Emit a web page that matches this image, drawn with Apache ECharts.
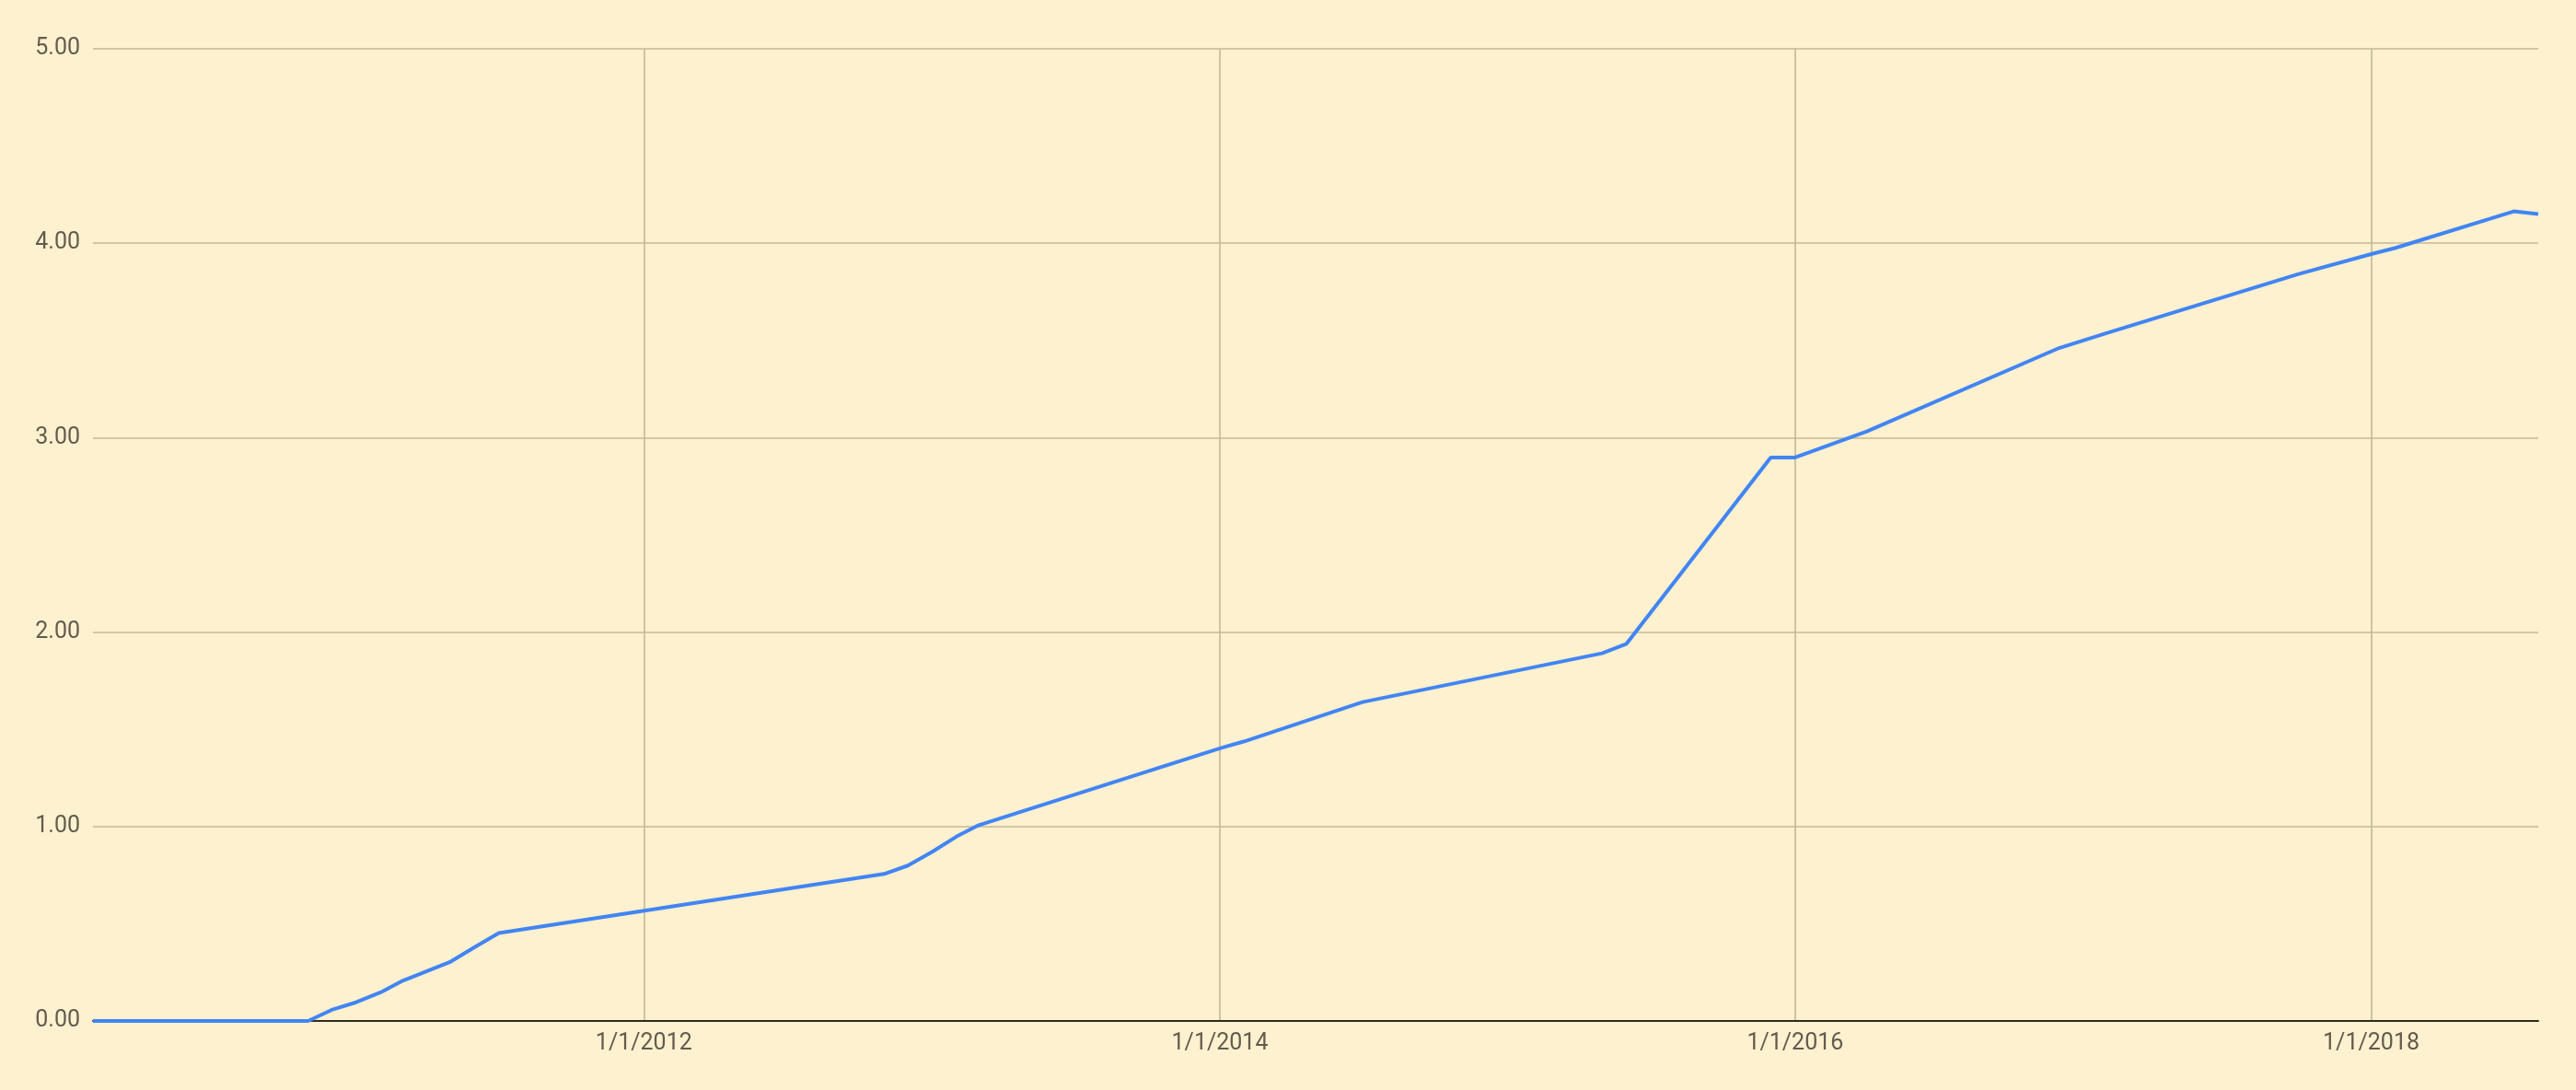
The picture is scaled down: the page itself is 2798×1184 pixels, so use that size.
<!DOCTYPE html>
<html>
<head>
<meta charset="utf-8">
<script src="https://cdn.jsdelivr.net/npm/echarts@6/dist/echarts.min.js"></script>
<style>
html,body{margin:0;padding:0;background:#fef1cf;}
#chart{width:2798px;height:1184px;}
</style>
</head>
<body>
<div id="chart"></div>
<script>
// Data
const dates = [
  '2010-02-01','2010-11-01','2010-12-01','2011-01-01','2011-02-01','2011-03-01',
  '2011-05-01','2011-06-01','2011-07-01','2012-11-01','2012-12-01','2013-01-01',
  '2013-02-01','2013-03-01','2014-01-01','2014-02-01','2014-07-01','2015-05-01',
  '2015-06-01','2015-12-01','2016-01-01','2016-04-01','2016-12-01','2017-02-01',
  '2017-10-01','2018-01-01','2018-02-01','2018-07-01','2018-08-01'
];
const values = [
  0, 0, 0.057, 0.096, 0.147, 0.207,
  0.305, 0.381, 0.452, 0.756, 0.799, 0.870,
  0.949, 1.007, 1.402, 1.438, 1.640, 1.891,
  1.940, 2.898, 2.898, 3.032, 3.461, 3.540,
  3.842, 3.944, 3.976, 4.164, 4.150
];
const xTickDates = ['2012-01-01','2014-01-01','2016-01-01','2018-01-01'];
const yMin = 0, yMax = 5, yStep = 1;

function toUTC(s){ const p = s.split('-').map(Number); return Date.UTC(p[0], p[1]-1, p[2]); }
const seriesData = dates.map((d,i)=>[toUTC(d), values[i]]);
const xTicks = xTickDates.map(toUTC);

const chart = echarts.init(document.getElementById('chart'), null, {renderer:'canvas'});
chart.setOption({
  backgroundColor: '#fef1cf',
  animation: false,
  textStyle: { fontFamily: 'Roboto' },
  grid: { left: 101, right: 41, top: 53, bottom: 75, containLabel: false },
  xAxis: {
    type: 'value',
    min: toUTC(dates[0]),
    max: toUTC(dates[dates.length-1]),
    axisLine: { show: true, onZero: false, lineStyle: { color: '#2e2a24', width: 2 } },
    axisTick: { show: false, customValues: xTicks },
    axisLabel: {
      customValues: xTicks,
      showMinLabel: true, showMaxLabel: true,
      color: '#625c4d', fontSize: 25, fontFamily: 'Roboto', margin: 12,
      formatter: function(v){ const d = new Date(v); return (d.getUTCMonth()+1)+'/'+d.getUTCDate()+'/'+d.getUTCFullYear(); }
    },
    splitLine: { show: true, lineStyle: { color: '#c4b894', width: 1.6 } }
  },
  yAxis: {
    type: 'value',
    min: yMin, max: yMax, interval: yStep,
    axisLine: { show: false },
    axisTick: { show: false },
    axisLabel: {
      color: '#625c4d', fontSize: 25, fontFamily: 'Roboto', margin: 14,
      formatter: function(v){ return v.toFixed(2); }
    },
    splitLine: { show: true, lineStyle: { color: '#c4b894', width: 1.6 } }
  },
  series: [{
    type: 'line',
    data: seriesData,
    showSymbol: false,
    symbol: 'none',
    lineStyle: { color: '#4285f4', width: 4 },
    z: 3
  }]
});
</script>
</body>
</html>
